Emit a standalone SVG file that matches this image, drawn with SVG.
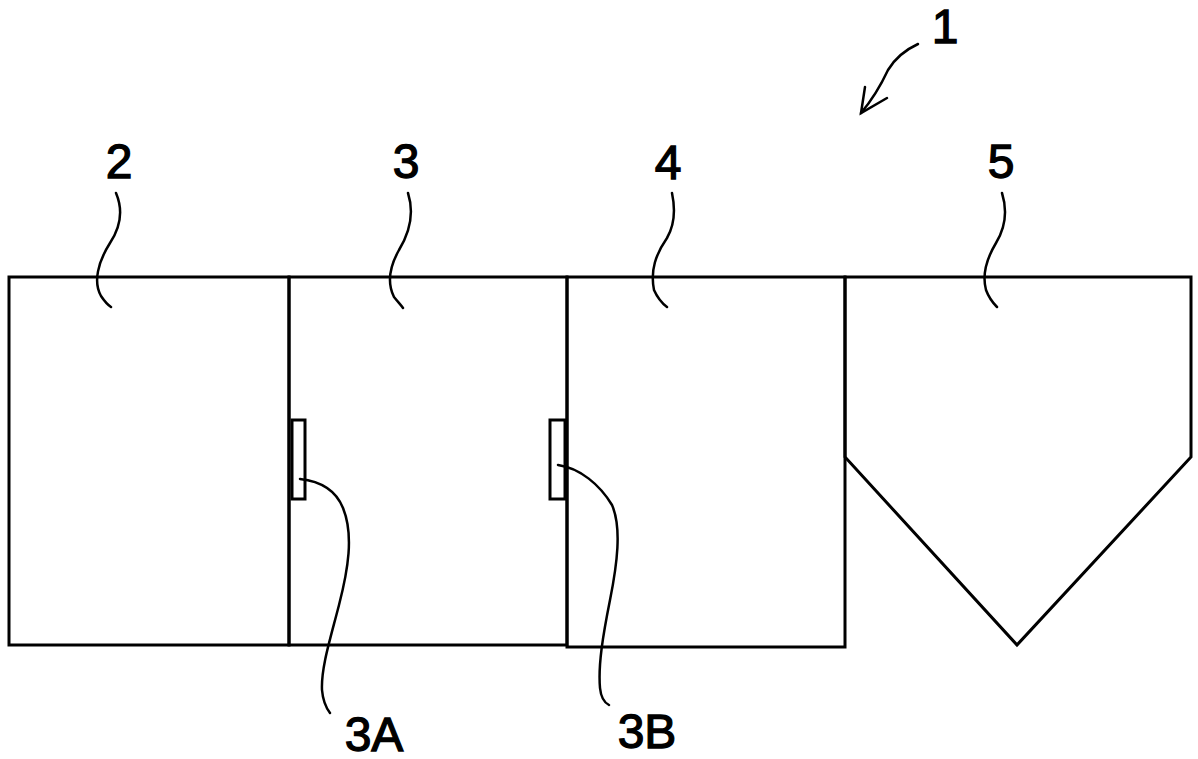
<svg xmlns="http://www.w3.org/2000/svg" width="1198" height="759" viewBox="0 0 1198 759">
<style>
.ln{fill:none;stroke:#000;stroke-width:3;stroke-linejoin:miter}
.ld{fill:none;stroke:#000;stroke-width:2.5;stroke-linecap:round}
.lb{font-family:"Liberation Sans",Arial,sans-serif;font-size:48px;fill:#000;stroke:#000;stroke-width:1.3;text-anchor:middle}
</style>
<rect width="1198" height="759" fill="#fff"/>
<g id="unit2">
<rect class="ln" x="9" y="277" width="280" height="368"/>
</g>
<g id="unit3">
<rect class="ln" x="289" y="277" width="278" height="368"/>
</g>
<g id="part3A">
<rect class="ln" x="292" y="420" width="13" height="79"/>
</g>
<g id="part3B">
<rect class="ln" x="550" y="420" width="15" height="79"/>
</g>
<g id="unit4">
<rect class="ln" x="567" y="277" width="278" height="370"/>
</g>
<g id="unit5">
<path class="ln" d="M845,277 H1191 V457 L1017,645 L845,457 Z"/>
</g>
<g id="connectors">
<path class="ld" d="M116,193 C124,212 120,228 110,243 C98,262 93,282 101,296 C105,302 108,305 111,307"/>
<path class="ld" d="M408,193 C414,212 410,232 399,250 C390,266 387,283 394,297 C398,302 401,305 403,308"/>
<path class="ld" d="M672,193 C676,212 674,226 667,238 C656,254 650,270 654,290 C658,299 663,304 667,307"/>
<path class="ld" d="M1002,193 C1008,212 1005,228 996,243 C987,258 982,275 986,290 C989,298 993,303 997,307"/>
<path class="ld" d="M300,479 C318,481 335,488 343,508 C354,535 348,570 339,605 C330,640 321,668 322,690 C323,702 327,709 330,713"/>
<path class="ld" d="M558,465 C580,468 600,485 612,505 C622,528 617,565 610,600 C603,635 598,665 600,688 C601,698 605,703 609,705"/>
<path class="ld" d="M918,44 C905,50 894,60 888,70 C881,85 872,100 861,113"/>
<path class="ld" d="M865,87 L861,113 L887,98"/>
</g>
<g id="labels">
<text class="lb" x="119" y="178">2</text>
<text class="lb" x="406" y="178">3</text>
<text class="lb" x="668" y="179">4</text>
<text class="lb" x="1001" y="178">5</text>
<text class="lb" x="945" y="43">1</text>
<text class="lb" x="374" y="751">3A</text>
<text class="lb" x="647" y="748">3B</text>
</g>
</svg>
